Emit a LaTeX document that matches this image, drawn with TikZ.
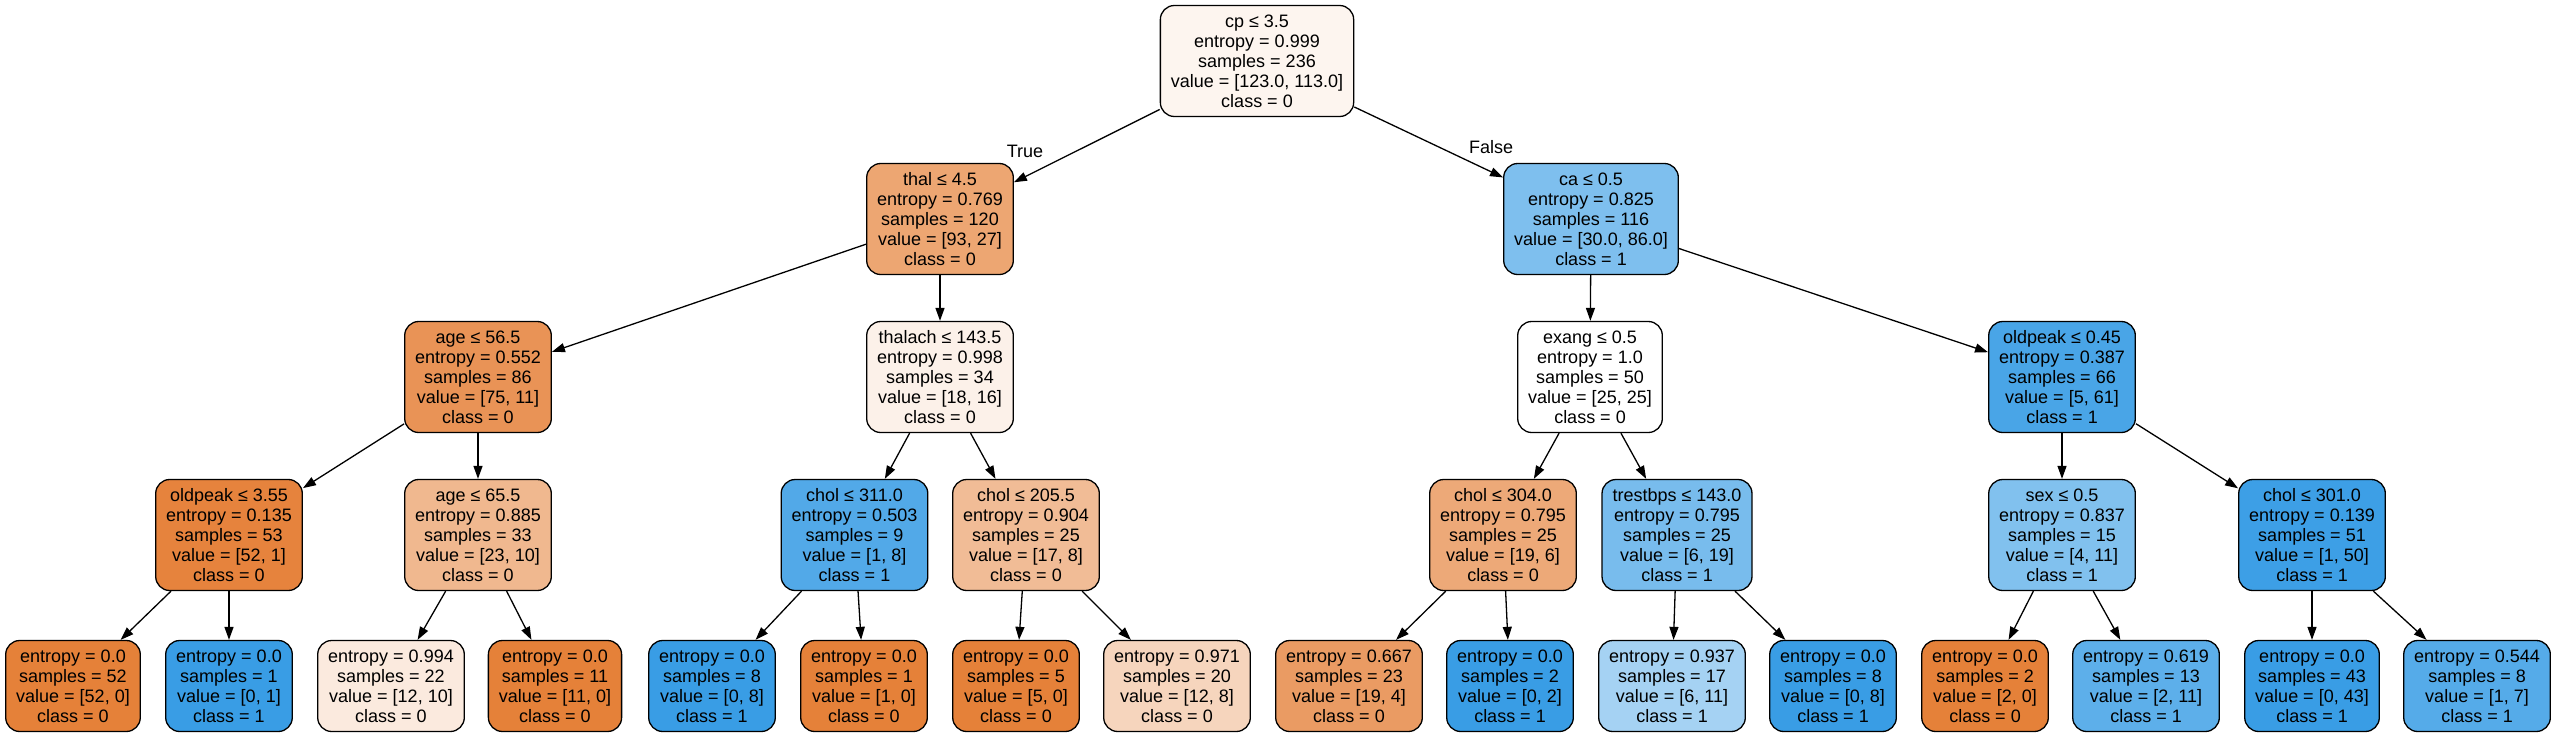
\documentclass[tikz,border=0pt]{standalone}
\usepackage{fontspec}
\setmainfont{Liberation Sans}
\usetikzlibrary{arrows.meta}
\definecolor{cA}{RGB}{253,245,239}
\definecolor{cB}{RGB}{237,166,114}
\definecolor{cC}{RGB}{126,191,238}
\definecolor{cD}{RGB}{233,147,86}
\definecolor{cE}{RGB}{252,241,233}
\definecolor{cF}{RGB}{255,255,255}
\definecolor{cG}{RGB}{73,165,231}
\definecolor{cH}{RGB}{230,131,61}
\definecolor{cI}{RGB}{240,184,143}
\definecolor{cJ}{RGB}{82,169,232}
\definecolor{cK}{RGB}{241,188,150}
\definecolor{cL}{RGB}{237,169,120}
\definecolor{cM}{RGB}{120,188,237}
\definecolor{cN}{RGB}{129,193,238}
\definecolor{cO}{RGB}{61,159,230}
\definecolor{cOr}{RGB}{229,129,57}
\definecolor{cBl}{RGB}{57,157,229}
\definecolor{cP}{RGB}{251,234,222}
\definecolor{cQ}{RGB}{246,213,189}
\definecolor{cR}{RGB}{234,155,99}
\definecolor{cS}{RGB}{165,210,243}
\definecolor{cT}{RGB}{93,175,234}
\definecolor{cU}{RGB}{85,171,233}
\tikzset{
  tn/.style={draw=black, line width=1.3pt, rounded corners=14pt, align=center,
    inner xsep=10.5pt, inner ysep=0pt, minimum height=111pt,
    font=\fontsize{18}{20}\selectfont},
  lf/.style={tn, minimum height=91pt},
  ed/.style={line width=1.3pt, -{Triangle[length=13pt,width=9pt]}},
  lab/.style={font=\fontsize{18}{20}\selectfont, inner sep=0pt},
}
\begin{document}
\begin{tikzpicture}[x=1pt,y=-1pt]
\useasboundingbox (0,0) rectangle (2556,736);
% level 0
\node[tn, fill=cA] (n0) at (1257,61) {cp ≤ 3.5\\entropy = 0.999\\samples = 236\\value = [123.0, 113.0]\\class = 0};
% level 1
\node[tn, fill=cB] (n1) at (940,219) {thal ≤ 4.5\\entropy = 0.769\\samples = 120\\value = [93, 27]\\class = 0};
\node[tn, fill=cC] (n2) at (1591,219) {ca ≤ 0.5\\entropy = 0.825\\samples = 116\\value = [30.0, 86.0]\\class = 1};
% level 2
\node[tn, fill=cD] (n3) at (478,377) {age ≤ 56.5\\entropy = 0.552\\samples = 86\\value = [75, 11]\\class = 0};
\node[tn, fill=cE] (n4) at (940,377) {thalach ≤ 143.5\\entropy = 0.998\\samples = 34\\value = [18, 16]\\class = 0};
\node[tn, fill=cF] (n5) at (1590,377) {exang ≤ 0.5\\entropy = 1.0\\samples = 50\\value = [25, 25]\\class = 0};
\node[tn, fill=cG] (n6) at (2062,377) {oldpeak ≤ 0.45\\entropy = 0.387\\samples = 66\\value = [5, 61]\\class = 1};
% level 3
\node[tn, fill=cH] (n7) at (229,535) {oldpeak ≤ 3.55\\entropy = 0.135\\samples = 53\\value = [52, 1]\\class = 0};
\node[tn, fill=cI] (n8) at (478,535) {age ≤ 65.5\\entropy = 0.885\\samples = 33\\value = [23, 10]\\class = 0};
\node[tn, fill=cJ] (n9) at (854.5,535) {chol ≤ 311.0\\entropy = 0.503\\samples = 9\\value = [1, 8]\\class = 1};
\node[tn, fill=cK] (n10) at (1026,535) {chol ≤ 205.5\\entropy = 0.904\\samples = 25\\value = [17, 8]\\class = 0};
\node[tn, fill=cL] (n11) at (1503,535) {chol ≤ 304.0\\entropy = 0.795\\samples = 25\\value = [19, 6]\\class = 0};
\node[tn, fill=cM] (n12) at (1677,535) {trestbps ≤ 143.0\\entropy = 0.795\\samples = 25\\value = [6, 19]\\class = 1};
\node[tn, fill=cN] (n13) at (2062,535) {sex ≤ 0.5\\entropy = 0.837\\samples = 15\\value = [4, 11]\\class = 1};
\node[tn, fill=cO] (n14) at (2312,535) {chol ≤ 301.0\\entropy = 0.139\\samples = 51\\value = [1, 50]\\class = 1};
% leaves
\node[lf, fill=cOr] (l1) at (73,686) {entropy = 0.0\\samples = 52\\value = [52, 0]\\class = 0};
\node[lf, fill=cBl] (l2) at (229,686) {entropy = 0.0\\samples = 1\\value = [0, 1]\\class = 1};
\node[lf, fill=cP] (l3) at (391,686) {entropy = 0.994\\samples = 22\\value = [12, 10]\\class = 0};
\node[lf, fill=cOr] (l4) at (555,686) {entropy = 0.0\\samples = 11\\value = [11, 0]\\class = 0};
\node[lf, fill=cBl] (l5) at (712,686) {entropy = 0.0\\samples = 8\\value = [0, 8]\\class = 1};
\node[lf, fill=cOr] (l6) at (864,686) {entropy = 0.0\\samples = 1\\value = [1, 0]\\class = 0};
\node[lf, fill=cOr] (l7) at (1016,686) {entropy = 0.0\\samples = 5\\value = [5, 0]\\class = 0};
\node[lf, fill=cQ] (l8) at (1177,686) {entropy = 0.971\\samples = 20\\value = [12, 8]\\class = 0};
\node[lf, fill=cR] (l9) at (1349,686) {entropy = 0.667\\samples = 23\\value = [19, 4]\\class = 0};
\node[lf, fill=cBl] (l10) at (1510,686) {entropy = 0.0\\samples = 2\\value = [0, 2]\\class = 1};
\node[lf, fill=cS] (l11) at (1672,686) {entropy = 0.937\\samples = 17\\value = [6, 11]\\class = 1};
\node[lf, fill=cBl] (l12) at (1833,686) {entropy = 0.0\\samples = 8\\value = [0, 8]\\class = 1};
\node[lf, fill=cOr] (l13) at (1985,686) {entropy = 0.0\\samples = 2\\value = [2, 0]\\class = 0};
\node[lf, fill=cT] (l14) at (2146,686) {entropy = 0.619\\samples = 13\\value = [2, 11]\\class = 1};
\node[lf, fill=cBl] (l15) at (2312,686) {entropy = 0.0\\samples = 43\\value = [0, 43]\\class = 1};
\node[lf, fill=cU] (l16) at (2477,686) {entropy = 0.544\\samples = 8\\value = [1, 7]\\class = 1};
% labels
\node[lab] (tl) at (1025,151) {True};
\node[lab] (fl) at (1491,147) {False};
% edges
\draw[ed] (n0) -- (n1);
\draw[ed] (n0) -- (n2);
\draw[ed] (n1) -- (n3);
\draw[ed] (n1) -- (n4);
\draw[ed] (n2) -- (n5);
\draw[ed] (n2) -- (n6);
\draw[ed] (n3) -- (n7);
\draw[ed] (n3) -- (n8);
\draw[ed] (n4) -- (n9);
\draw[ed] (n4) -- (n10);
\draw[ed] (n5) -- (n11);
\draw[ed] (n5) -- (n12);
\draw[ed] (n6) -- (n13);
\draw[ed] (n6) -- (n14);
\draw[ed] (n7) -- (l1);
\draw[ed] (n7) -- (l2);
\draw[ed] (n8) -- (l3);
\draw[ed] (n8) -- (l4);
\draw[ed] (n9) -- (l5);
\draw[ed] (n9) -- (l6);
\draw[ed] (n10) -- (l7);
\draw[ed] (n10) -- (l8);
\draw[ed] (n11) -- (l9);
\draw[ed] (n11) -- (l10);
\draw[ed] (n12) -- (l11);
\draw[ed] (n12) -- (l12);
\draw[ed] (n13) -- (l13);
\draw[ed] (n13) -- (l14);
\draw[ed] (n14) -- (l15);
\draw[ed] (n14) -- (l16);
\end{tikzpicture}
\end{document}
